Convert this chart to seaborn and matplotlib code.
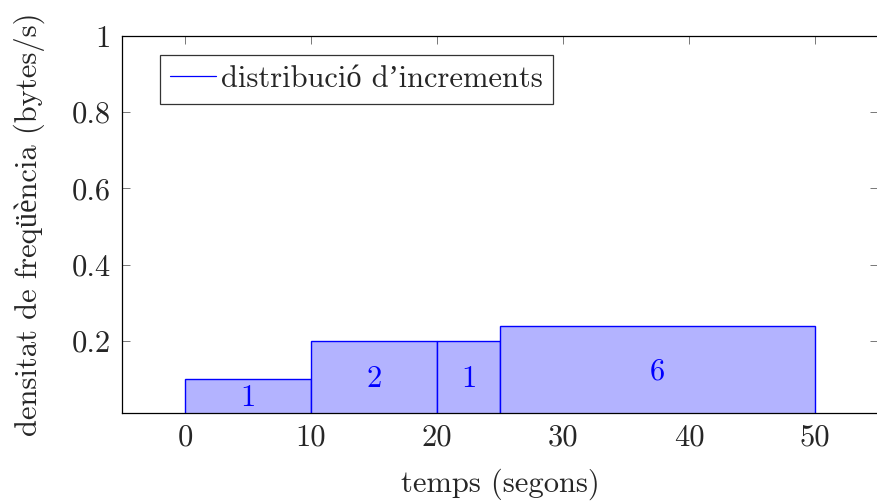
import matplotlib
matplotlib.use("Agg")
import matplotlib.pyplot as plt
import seaborn as sns
import numpy as np
from matplotlib.lines import Line2D

# data
bin_edges = [0, 10, 20, 25, 50]
counts = [1, 2, 1, 6]
bar_labels = ["1", "2", "1", "6"]
x_ticks = [0, 10, 20, 30, 40, 50]
y_ticks = [0.2, 0.4, 0.6, 0.8, 1.0]
y_tick_labels = ["0.2", "0.4", "0.6", "0.8", "1"]
x_label = "temps (segons)"
y_label = "densitat de freqüència (bytes/s)"
legend_label = "distribució d’increments"

sns.set_style("white")
plt.rcParams['font.family'] = ['cmr10', 'Liberation Serif', 'DejaVu Serif']
plt.rcParams['mathtext.fontset'] = 'cm'
FS = 22

fig = plt.figure(figsize=(8.77, 5.01), dpi=100)
ax = fig.add_axes([122/877, (501-413)/501, (878-122)/877, (413-36)/501])

centers = [(a + b) / 2 for a, b in zip(bin_edges[:-1], bin_edges[1:])]
sns.histplot(x=centers, weights=counts, bins=bin_edges, stat="frequency", ax=ax)

for p, lab in zip(ax.patches, bar_labels):
    p.set_facecolor("#b3b3ff")
    p.set_edgecolor("#0000ff")
    p.set_alpha(1)
    p.set_linewidth(1.0)
    cx = p.get_x() + p.get_width() / 2
    cy = p.get_height() / 2
    ax.text(cx, cy, lab, color="#0000ff", ha="center", va="center", fontsize=FS)

ax.set_xlim(-5, 55)
ax.set_ylim(0.011, 1)
ax.set_xticks(x_ticks)
ax.set_xticklabels([str(t) for t in x_ticks], fontsize=FS)
ax.set_yticks(y_ticks)
ax.set_yticklabels(y_tick_labels, fontsize=FS)
ax.set_xlabel(x_label, fontsize=FS, labelpad=12)
ax.set_ylabel(y_label, fontsize=FS, labelpad=19)

ax.tick_params(direction="in", length=6, width=0.7, color="#777777",
               top=True, right=True, left=True, bottom=True, pad=8)
for s in ax.spines.values():
    s.set_color("black")
    s.set_linewidth(0.9)
    s.set_visible(True)

handle = Line2D([], [], color="#0000ff", lw=0.9)
leg = ax.legend([handle], [legend_label], loc="upper left",
                bbox_to_anchor=(0.05, 0.95), borderaxespad=0,
                fontsize=FS, frameon=True, fancybox=False,
                handlelength=1.5, handletextpad=0.15, borderpad=0.35)
leg.get_frame().set_edgecolor("black")
leg.get_frame().set_linewidth(0.9)

fig.savefig("out.png", dpi=100)
